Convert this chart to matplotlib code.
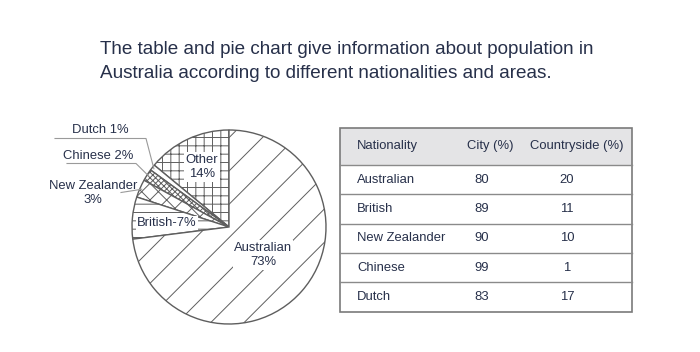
import matplotlib
matplotlib.use("Agg")
import matplotlib.pyplot as plt
from matplotlib.patches import Rectangle
import numpy as np

# ---- data ----
title_lines = ["The table and pie chart give information about population in",
               "Australia according to different nationalities and areas."]
pie_labels = ["Other", "Dutch", "Chinese", "New Zealander", "British", "Australian"]
pie_values = [14, 1, 2, 3, 7, 73]
pie_hatches = ["++", "", "xxxxxx", "xx", "--", "/"]

table_header = ["Nationality", "City (%)", "Countryside (%)"]
table_nat = ["Australian", "British", "New Zealander", "Chinese", "Dutch"]
table_city = [80, 89, 90, 99, 83]
table_country = [20, 11, 10, 1, 17]

TXT = "#27304a"
EDGE = "#5e5e5e"
plt.rcParams["font.family"] = ["Liberation Sans", "DejaVu Sans"]
plt.rcParams["hatch.linewidth"] = 0.7
plt.rcParams["hatch.color"] = "#777777"

W, H = 700, 352
fig = plt.figure(figsize=(7, 3.52), dpi=100)
fig.patch.set_facecolor("white")

# background axes in pixel coordinates
bg = fig.add_axes([0, 0, 1, 1])
bg.set_xlim(0, W)
bg.set_ylim(H, 0)
bg.axis("off")

for i, line in enumerate(title_lines):
    bg.text(100, 53.5 + i * 24.5, line, fontsize=13.6, color=TXT, ha="left", va="baseline")

# ---- table ----
tx0, tx1 = 340, 632
ty0 = 128
head_h = 37
row_h = 29.3
nrows = len(table_nat)
ty1 = ty0 + head_h + nrows * row_h
bg.add_patch(Rectangle((tx0, ty0), tx1 - tx0, head_h, facecolor="#e4e4e6",
                       edgecolor="none", zorder=1))
bg.add_patch(Rectangle((tx0, ty0), tx1 - tx0, ty1 - ty0, facecolor="none",
                       edgecolor="#7a7a7a", lw=1.2, zorder=3))
for i in range(nrows):
    y = ty0 + head_h + i * row_h
    bg.plot([tx0, tx1], [y, y], color="#8a8a8a", lw=1.0, zorder=3)

fs = 9.4
hy = ty0 + head_h / 2
bg.text(357, hy, table_header[0], fontsize=fs, color=TXT, ha="left", va="center")
bg.text(490, hy, table_header[1], fontsize=fs, color=TXT, ha="center", va="center")
bg.text(577, hy, table_header[2], fontsize=fs, color=TXT, ha="center", va="center")
for i in range(nrows):
    y = ty0 + head_h + (i + 0.5) * row_h
    bg.text(357, y, table_nat[i], fontsize=fs, color=TXT, ha="left", va="center")
    bg.text(482, y, str(table_city[i]), fontsize=fs, color=TXT, ha="center", va="center")
    bg.text(567, y, str(table_country[i]), fontsize=fs, color=TXT, ha="center", va="center")

# ---- pie ----
cx, cy, R = 229, 227, 97
pax = fig.add_axes([(cx - R) / W, (H - cy - R) / H, 2 * R / W, 2 * R / H])
wedges, _ = pax.pie(pie_values, startangle=90, counterclock=True, radius=1,
                    colors=["white"] * len(pie_values),
                    wedgeprops=dict(edgecolor=EDGE, linewidth=1.0))
pax.set_xlim(-1, 1)
pax.set_ylim(-1, 1)
pax.axis("off")
for w, h in zip(wedges, pie_hatches):
    w.set_hatch(h)
    w.set_clip_on(False)


def px(x, y):
    return (x - cx) / R, (cy - y) / R


def mid_edge(w):
    a = np.deg2rad((w.theta1 + w.theta2) / 2)
    return np.cos(a), np.sin(a)

lead = "#9a9a9a"
# Dutch leader
ex, ey = mid_edge(wedges[1])
p0 = px(55, 138.5); p1 = px(146, 138.5)
pax.plot([p0[0], p1[0], ex * 0.98], [p0[1], p1[1], ey * 0.98], color=lead, lw=0.8, clip_on=False, zorder=5)
# Chinese leader
ex, ey = mid_edge(wedges[2])
p0 = px(67, 163.5); p1 = px(136, 163.5)
pax.plot([p0[0], p1[0], ex * 0.98], [p0[1], p1[1], ey * 0.98], color=lead, lw=0.8, clip_on=False, zorder=5)
# New Zealander leader
ex, ey = mid_edge(wedges[3])
p0 = px(121, 192.5)
pax.plot([p0[0], ex * 0.98], [p0[1], ey * 0.98], color=lead, lw=0.8, clip_on=False, zorder=5)

lab_fs = 9.4
box = dict(facecolor="white", edgecolor="none", pad=1.0)
def lab(xy, s, **kw):
    x, y = px(*xy)
    pax.text(x, y, s, fontsize=lab_fs, color=TXT, ha="center", va="center",
             clip_on=False, zorder=6, linespacing=1.3, **kw)

lab((202, 167), f"{pie_labels[0]}\n{pie_values[0]}%", bbox=box)
lab((100, 130), f"{pie_labels[1]} {pie_values[1]}%")
lab((98, 156), f"{pie_labels[2]} {pie_values[2]}%")
lab((93, 193), f"{pie_labels[3]}\n{pie_values[3]}%")
lab((167, 223), f"{pie_labels[4]}-{pie_values[4]}%", bbox=box)
lab((263, 255), f"{pie_labels[5]}\n{pie_values[5]}%", bbox=box)

fig.savefig("out.png", dpi=100, facecolor="white")
